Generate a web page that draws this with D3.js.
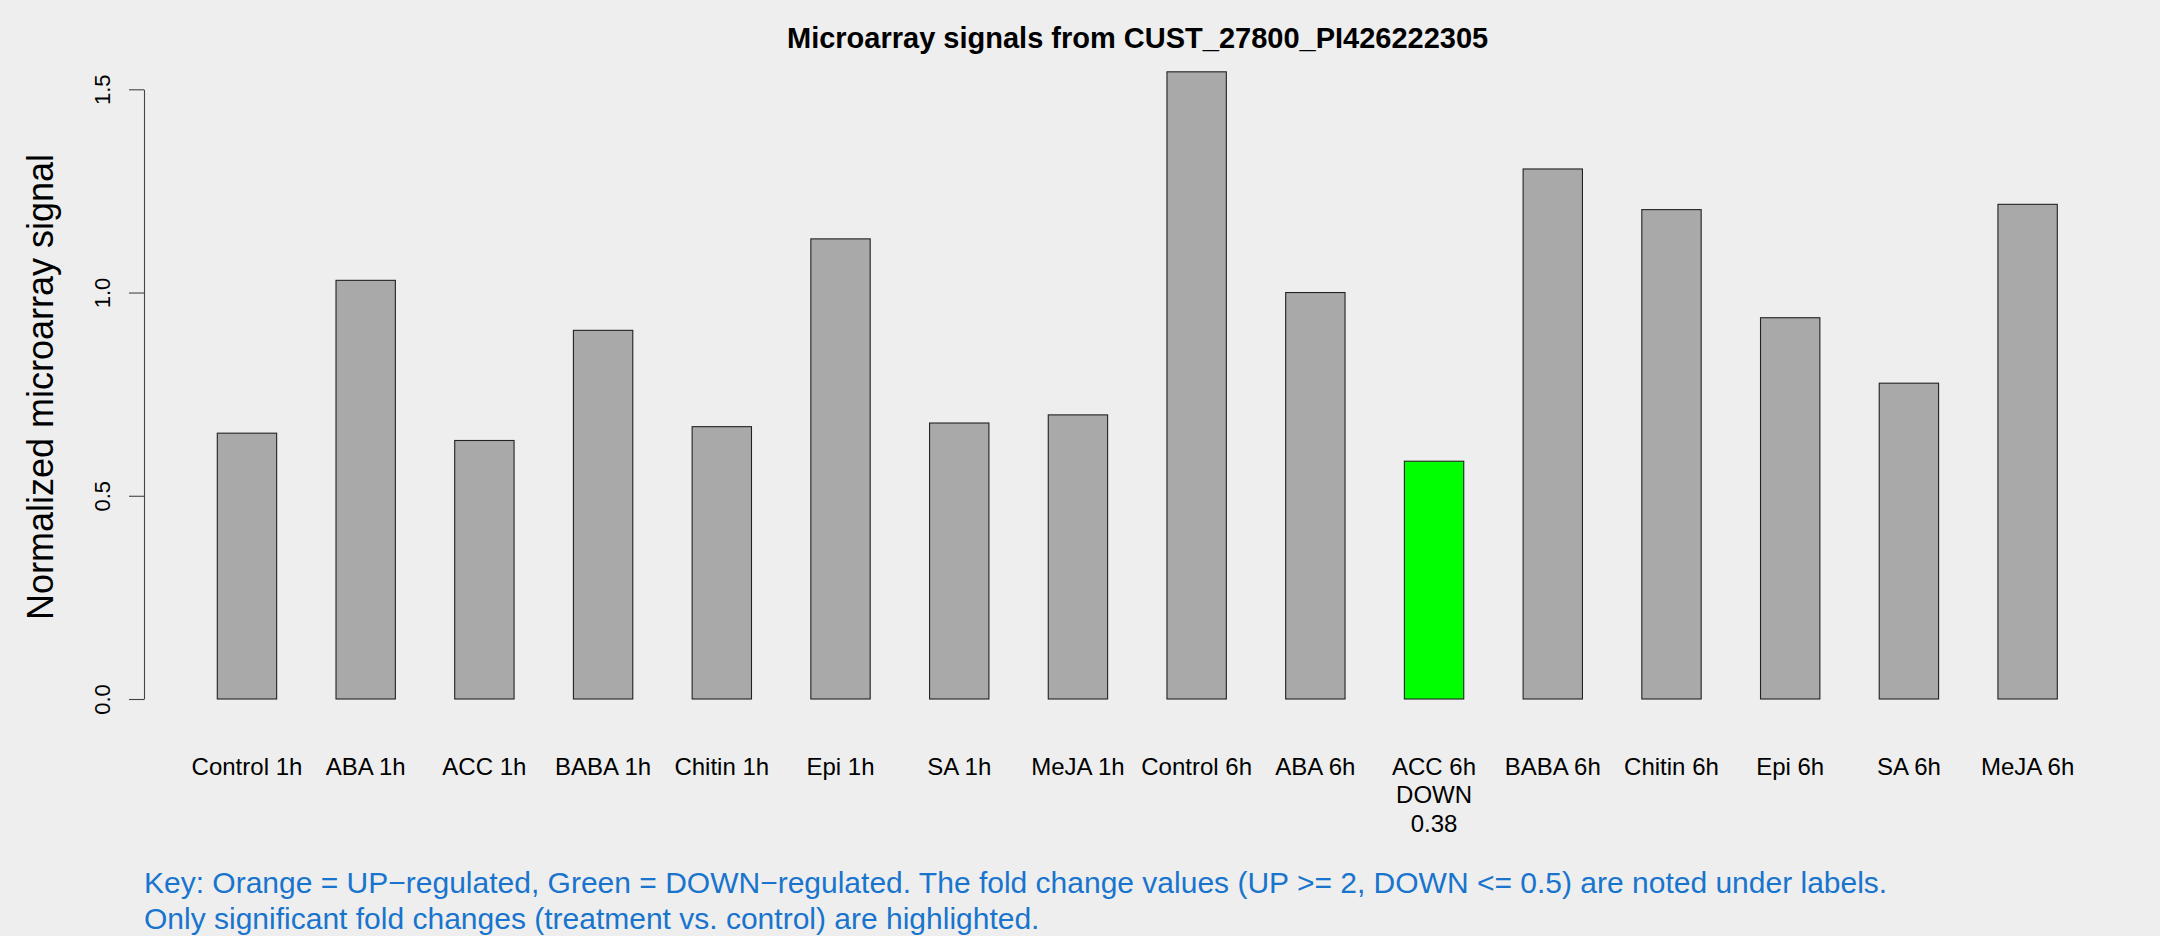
<!DOCTYPE html>
<html>
<head>
<meta charset="utf-8">
<script src="https://cdn.jsdelivr.net/npm/d3@7"></script>
<style>
  html, body { margin: 0; padding: 0; background: #eeeeee; }
  svg { display: block; }
  text { font-family: "Liberation Sans", Arial, Helvetica, sans-serif; }
</style>
</head>
<body>
<svg id="chart" width="2160" height="936"></svg>
<script>
// ---- data ----
const categories = ["Control 1h", "ABA 1h", "ACC 1h", "BABA 1h", "Chitin 1h", "Epi 1h", "SA 1h", "MeJA 1h",
                    "Control 6h", "ABA 6h", "ACC 6h", "BABA 6h", "Chitin 6h", "Epi 6h", "SA 6h", "MeJA 6h"];
const values = [0.654, 1.030, 0.636, 0.907, 0.670, 1.132, 0.679, 0.699,
                1.543, 1.000, 0.585, 1.304, 1.204, 0.938, 0.777, 1.217];
const regulation = ["", "", "", "", "", "", "", "",
                    "", "", "DOWN", "", "", "", "", ""];
const foldChanges = [null, null, null, null, null, null, null, null,
                     null, null, 0.38, null, null, null, null, null];
const yTicks = [0, 0.5, 1.0, 1.5];
const titleText = "Microarray signals from CUST_27800_PI426222305";
const yLabel = "Normalized microarray signal";
const keyLines = [
  "Key: Orange = UP\u2212regulated, Green = DOWN\u2212regulated. The fold change values (UP >= 2, DOWN <= 0.5) are noted under labels.",
  "Only significant fold changes (treatment vs. control) are highlighted."
];
const regColors = { "": "#a9a9a9", "UP": "#ffa500", "DOWN": "#00ff00" };

// ---- layout ----
const svg = d3.select("#chart");
svg.append("rect").attr("width", 2160).attr("height", 936).attr("fill", "#eeeeee");

const x = d3.scaleBand().domain(categories).range([157.94, 2116.65]).paddingInner(0.5).paddingOuter(0.5);
const y = d3.scaleLinear().domain([0, 1.5]).range([699, 89.3]);

// bars
svg.append("g").selectAll("rect")
  .data(categories)
  .join("rect")
  .attr("x", d => x(d))
  .attr("width", x.bandwidth())
  .attr("y", (d, i) => y(values[i]))
  .attr("height", (d, i) => y(0) - y(values[i]))
  .attr("fill", (d, i) => regColors[regulation[i]])
  .attr("stroke", "#222")
  .attr("stroke-width", 1.1);

// y axis
const yAxis = d3.axisLeft(y)
  .tickValues(yTicks)
  .tickFormat(d3.format(".1f"))
  .tickSize(15)
  .tickSizeOuter(0);
const gy = svg.append("g").attr("transform", "translate(144,0)").call(yAxis);
gy.select(".domain").attr("stroke", "#444").attr("stroke-width", 1.1);
gy.selectAll(".tick line").attr("stroke", "#444").attr("stroke-width", 1.1);
gy.selectAll(".tick text")
  .attr("transform", "rotate(-90)")
  .attr("x", 0)
  .attr("y", -34)
  .attr("dy", 0)
  .attr("text-anchor", "middle")
  .attr("fill", "#000")
  .style("font-size", "22px")
  .style("font-family", "\"Liberation Sans\", Arial, sans-serif");

// category labels
const labels = svg.append("g").selectAll("text")
  .data(categories)
  .join("text")
  .attr("x", d => x(d) + x.bandwidth() / 2)
  .attr("y", 775)
  .attr("text-anchor", "middle")
  .style("font-size", "24px")
  .attr("fill", "#000");
labels.each(function(d, i) {
  const t = d3.select(this);
  t.append("tspan").attr("x", x(d) + x.bandwidth() / 2).attr("dy", 0).text(d);
  if (regulation[i]) {
    t.append("tspan").attr("x", x(d) + x.bandwidth() / 2).attr("dy", 28.3).text(regulation[i]);
    t.append("tspan").attr("x", x(d) + x.bandwidth() / 2).attr("dy", 28.3).text(d3.format(".2f")(foldChanges[i]));
  }
});

// y label
svg.append("text")
  .attr("transform", "translate(53,387) rotate(-90)")
  .attr("text-anchor", "middle")
  .style("font-size", "36px")
  .attr("fill", "#000")
  .text(yLabel);

// title
svg.append("text")
  .attr("x", 1137.6)
  .attr("y", 47.5)
  .attr("text-anchor", "middle")
  .style("font-size", "29px")
  .style("font-weight", "bold")
  .attr("fill", "#000")
  .text(titleText);

// key
svg.append("g").selectAll("text")
  .data(keyLines)
  .join("text")
  .attr("x", 144)
  .attr("y", (d, i) => 893.3 + i * 36)
  .style("font-size", "30px")
  .attr("fill", "#1874cd")
  .text(d => d);
</script>
</body>
</html>
